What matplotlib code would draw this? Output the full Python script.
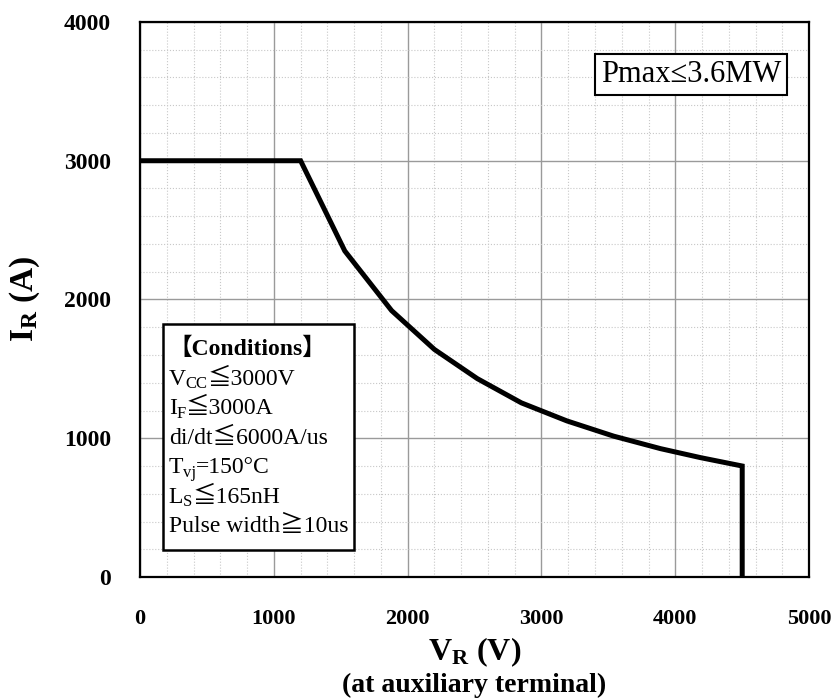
import matplotlib
matplotlib.use('Agg')
import matplotlib.pyplot as plt
from matplotlib.ticker import MultipleLocator
from matplotlib.patches import Rectangle

# RBSOA curve
v_r = [0, 1200, 1530, 1880, 2200, 2520, 2850, 3190, 3540, 3890, 4190, 4500, 4500]
i_r = [3000, 3000, 2350, 1920, 1640, 1430, 1255, 1125, 1015, 925, 860, 800, 0]

x_ticks = [0, 1000, 2000, 3000, 4000, 5000]
y_ticks = [0, 1000, 2000, 3000, 4000]

# conditions box lines: (text, kind) with kind 'n' normal, 's' subscript, 'b' bold
conditions = [
    [('【Conditions】', 'b')],
    [('V', 'n'), ('CC', 's'), ('≦3000V', 'n')],
    [('I', 'n'), ('F', 's'), ('≦3000A', 'n')],
    [('di/dt≦6000A/us', 'n')],
    [('T', 'n'), ('vj', 's'), ('=150°C', 'n')],
    [('L', 'n'), ('S', 's'), ('≦165nH', 'n')],
    [('Pulse width≧10us', 'n')],
]
pmax_text = 'Pmax≤3.6MW'

serif = ['Liberation Serif', 'Noto Sans CJK JP', 'DejaVu Serif']
plt.rcParams['font.family'] = serif
plt.rcParams['mathtext.fontset'] = 'custom'
plt.rcParams['mathtext.rm'] = 'Liberation Serif'
plt.rcParams['mathtext.bf'] = 'Liberation Serif:bold'

fig = plt.figure(figsize=(8.35, 7), dpi=100)
ax = fig.add_axes([0.1677, 0.1757, 0.8013, 0.7929])

ax.plot(v_r, i_r, color='black', lw=3.6, solid_joinstyle='miter', zorder=3)

ax.set_xlim(0, 5000)
ax.set_ylim(0, 4000)
ax.set_xticks(x_ticks)
ax.set_yticks(y_ticks)
ax.xaxis.set_minor_locator(MultipleLocator(200))
ax.yaxis.set_minor_locator(MultipleLocator(200))
ax.grid(which='major', color='#9a9a9a', lw=1.0, ls='-')
ax.grid(which='minor', color='#c8c8c8', lw=0.8, ls=':')
ax.set_axisbelow(True)
ax.tick_params(which='both', length=0)
ax.tick_params(axis='x', pad=23, labelsize=16)
ax.tick_params(axis='y', pad=21, labelsize=17)
for lab in ax.get_xticklabels() + ax.get_yticklabels():
    lab.set_fontweight('bold')
for sp in ax.spines.values():
    sp.set_linewidth(1.6)
    sp.set_color('black')

# axis titles
fig.text(25 / 835, 1 - 299 / 700, r'$\mathbf{I_R}$ (A)', rotation=90,
         ha='center', va='center', fontsize=24, fontweight='bold')
fig.text((140 + 809) / 2 / 835, 1 - 652 / 700, r'$\mathbf{V_R}$ (V)',
         ha='center', va='center', fontsize=23, fontweight='bold')
fig.text((140 + 809) / 2 / 835, 2 / 700, '(at auxiliary terminal)',
         ha='center', va='bottom', fontsize=20, fontweight='bold')

# Pmax box
ax.text(0.8236, 0.906, pmax_text, transform=ax.transAxes, ha='center', va='center',
        fontsize=22, bbox=dict(boxstyle='square,pad=0.2', fc='white', ec='black', lw=1.5),
        zorder=5)

# conditions box
ax.add_patch(Rectangle((0.034, 0.0486), 0.2855, 0.407, transform=ax.transAxes,
                       fc='white', ec='black', lw=1.8, zorder=4))
y0 = 0.40
step = 0.0532
for k, line in enumerate(conditions):
    y = y0 - k * step
    prev = None
    prev_shift = 0
    for txt, kind in line:
        size = 12 if kind == 's' else 17
        weight = 'bold' if kind == 'b' else 'normal'
        shift = -2 if kind == 's' else 0
        if prev is None:
            prev = ax.text(0.043, y, txt, transform=ax.transAxes, ha='left',
                           va='baseline', fontsize=size, fontweight=weight, zorder=6)
        else:
            prev = ax.annotate(txt, xy=(1, 0), xycoords=prev,
                               xytext=(0, shift - prev_shift), textcoords='offset points',
                               ha='left', va='bottom', fontsize=size,
                               fontweight=weight, zorder=6)
        prev_shift = shift

fig.savefig('out.png', dpi=100)
